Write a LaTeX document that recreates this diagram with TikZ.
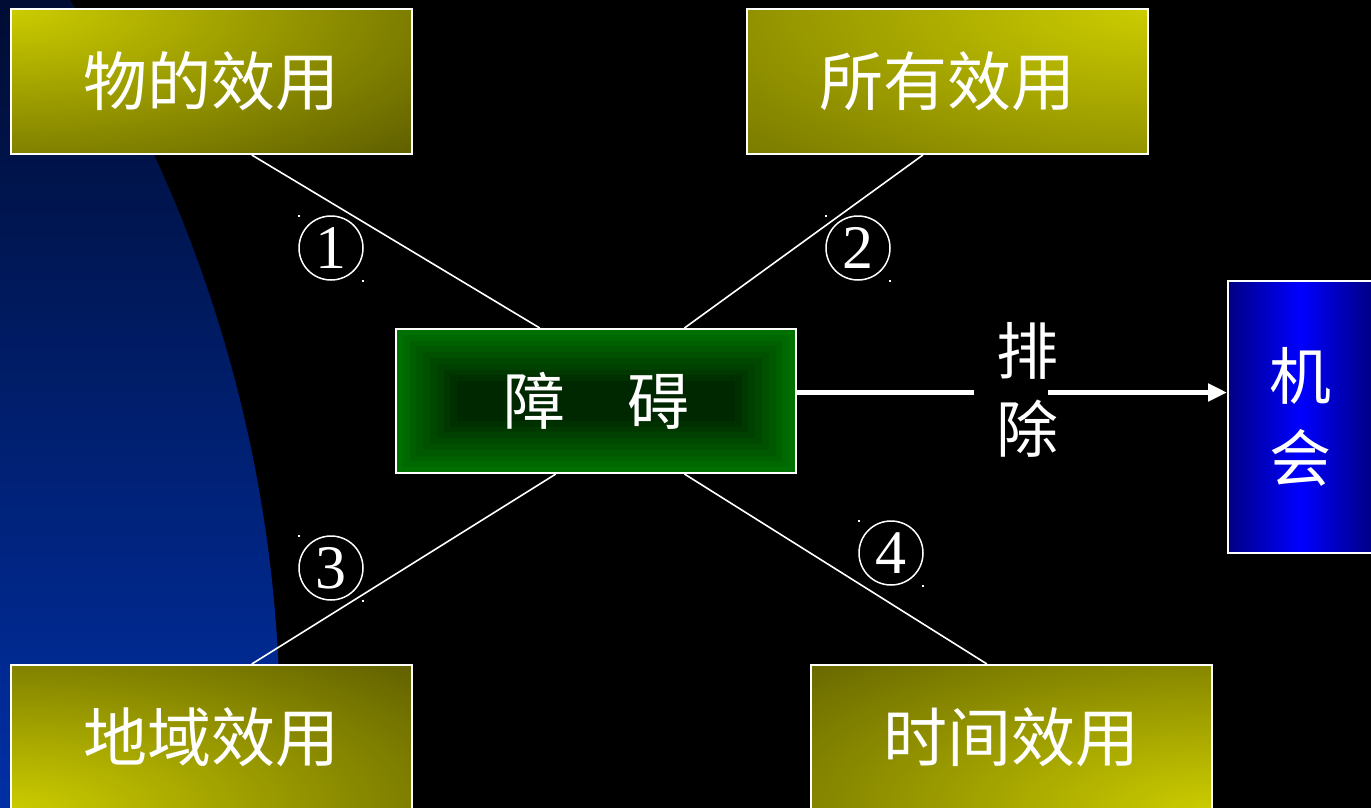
\documentclass[tikz,border=0pt]{standalone}
\usepackage{fontspec}
\newfontfamily\cjk{Noto Sans CJK SC}
\newfontfamily\digitfont{Liberation Serif}
\usetikzlibrary{arrows.meta,calc}
\definecolor{yhi}{HTML}{CCCC00}
\definecolor{ylo}{HTML}{5E5E00}
\definecolor{ylob}{HTML}{7A7A00}
\definecolor{yloc}{HTML}{606000}
\definecolor{ylod}{HTML}{686800}
\definecolor{navytop}{HTML}{000C32}
\definecolor{navybot}{HTML}{0030A6}
\definecolor{bdark}{HTML}{000084}
\definecolor{bblue}{HTML}{0000FF}
\tikzset{
  ybox/.style={draw=white, line width=2pt, minimum width=401pt, minimum height=145pt,
    inner sep=0pt, text=white, font=\cjk\fontsize{64}{64}\selectfont},
  ycorner/.style 2 args={fill=#2, path picture={\shade[inner color=yhi, outer color=#2]
    (path picture bounding box.#1) ellipse [x radius=560pt, y radius=210pt];}},
  gbox/.style={draw=white, line width=2pt, minimum width=400pt, minimum height=144pt,
    inner sep=0pt, text=white, font=\cjk\fontsize{62}{62}\selectfont,
    path picture={\foreach \i [evaluate=\i as \g using int(112-\i*8)] in {0,...,9}{
      \fill[fill={rgb,255:red,0;green,\g;blue,0}]
        ($(path picture bounding box.south west)+(\i*6.8pt,\i*5.8pt)$) rectangle
        ($(path picture bounding box.north east)+(-\i*6.8pt,-\i*5.8pt)$);}}},
  bbox/.style={draw=white, line width=2pt, minimum width=144pt, minimum height=272pt,
    inner sep=0pt, left color=bdark, right color=bdark, middle color=bblue,
    text=white, align=center, font=\cjk\fontsize{62}{82}\selectfont},
  numnode/.style={circle, draw=white, line width=1.5pt, minimum size=64pt, inner sep=0pt,
    text=white, font=\digitfont\fontsize{62}{62}\selectfont},
  link/.style={draw=white, line width=1.6pt},
  bigarrow/.style={draw=white, line width=5pt},
  lbl/.style={text=white, align=center, inner sep=0pt, font=\cjk\fontsize{62}{78}\selectfont},
}
\begin{document}
\begin{tikzpicture}[x=1pt,y=-1pt]
\fill[black] (0,0) rectangle (1371,808);
\useasboundingbox (0,0) rectangle (1371,808);
% background arc
\begin{scope}
  \clip (-1093,730) circle [radius=1373pt];
  \shade[top color=navytop, bottom color=navybot] (-10,-2) rectangle (320,812);
\end{scope}
% boxes
\node[ybox, ycorner={north west}{ylo}, anchor=north west] (wu) at (10,8) {\raisebox{-3pt}{物的效用}};
\node[ybox, ycorner={north east}{ylob}, anchor=north west] (suo) at (746,8) {\raisebox{-3pt}{所有效用}};
\node[ybox, ycorner={south west}{yloc}, anchor=north west] (di) at (10,664) {\raisebox{-3pt}{地域效用}};
\node[ybox, ycorner={south east}{ylod}, anchor=north west] (shi) at (810,664) {\raisebox{-3pt}{时间效用}};
\node[gbox, anchor=north west] (zhang) at (395,328) {\raisebox{-2pt}{障　碍}};
\node[bbox, anchor=north west] (jihui) at (1227,280) {机\\会};
% connectors
\draw[link] ($(wu.south west)!0.6!(wu.south east)$) -- ($(zhang.north west)!0.36!(zhang.north east)$);
\draw[link] ($(suo.south west)!0.439!(suo.south east)$) -- ($(zhang.north west)!0.72!(zhang.north east)$);
\draw[link] ($(di.north west)!0.6!(di.north east)$) -- ($(zhang.south west)!0.4!(zhang.south east)$);
\draw[link] ($(shi.north west)!0.439!(shi.north east)$) -- ($(zhang.south west)!0.72!(zhang.south east)$);
% numbers
\node[numnode] (n1) at (331,248) {\raisebox{-3pt}{1}};
\node[numnode] (n2) at (858,248) {\raisebox{-3pt}{2}};
\node[numnode] (n3) at (331,568) {\raisebox{-3pt}{3}};
\node[numnode] (n4) at (891,553) {\raisebox{-3pt}{4}};
\foreach \p in {n1,n2,n3,n4}{
  \fill[white] ($(\p.center)+(-33pt,33pt)$) rectangle ++(2pt,-2pt);
  \fill[white] ($(\p.center)+(31pt,-32pt)$) rectangle ++(2pt,-2pt);
}
% arrow with label
\coordinate (gapL) at (974,392.5);
\coordinate (gapR) at (1048,392.5);
\node[lbl] (paichu) at (1027,390) {排\\除};
\draw[bigarrow] (zhang.east |- gapL) -- (gapL);
\draw[bigarrow, -{Triangle[length=19pt,width=17pt]}] (gapR) -- (jihui.west |- gapR);
\end{tikzpicture}
\end{document}
